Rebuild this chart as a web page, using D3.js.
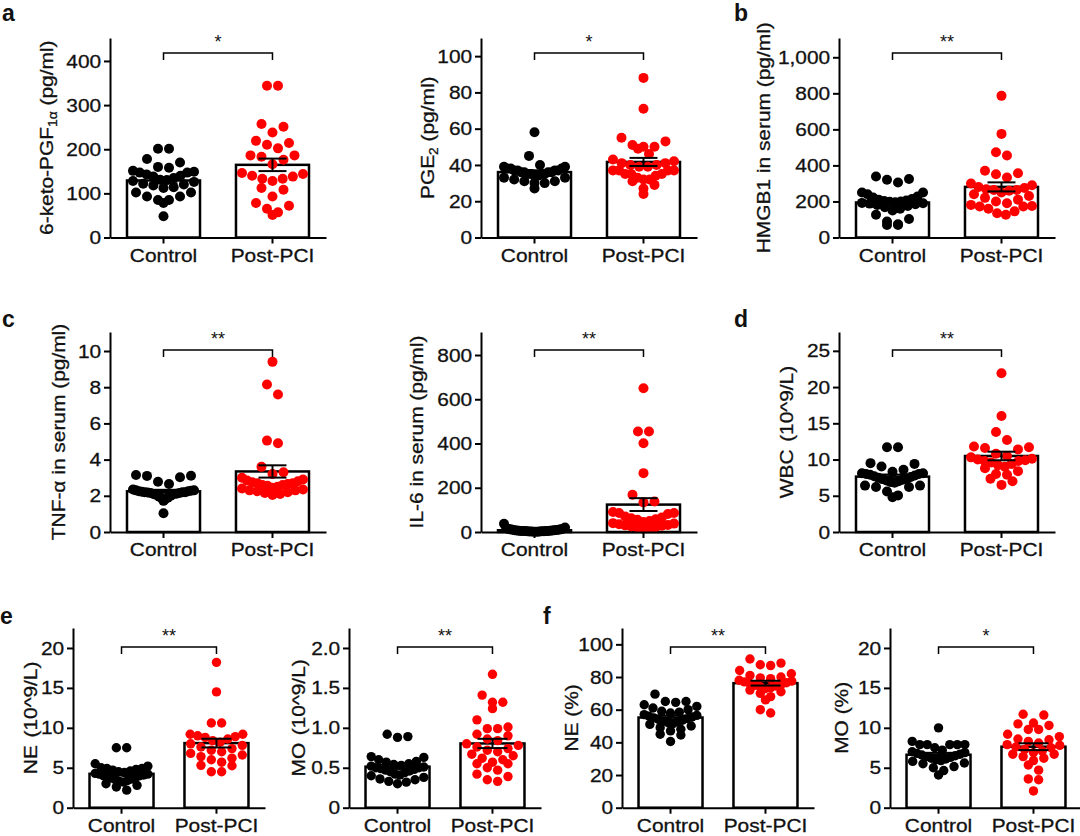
<!DOCTYPE html>
<html>
<head>
<meta charset="utf-8">
<script src="https://cdn.jsdelivr.net/npm/d3@7"></script>
<style>
  body { margin: 0; background: #fff; }
  text { font-family: "Liberation Sans", Arial, sans-serif; fill: #111; }
</style>
</head>
<body>
<div id="fig"></div>
<script>
// groups on every x axis
var groups = ["Control", "Post-PCI"];

// a: 6-keto-PGF1a
var ketoControl = [201,201,178,170,160,158,151,149,147,147,143,140,138,135,131,130,128,126,122,120,118,114,112,102,102,93,93,85,85,78,48];
var ketoPost = [344,344,257,251,238,219,214,210,202,186,186,183,176,166,146,140,133,128,133,138,144,108,112,93,78,72,65,57,51];
var ketoTicks = [0,100,200,300,400];

// a: PGE2
var pge2Control = [58,45,40,39,39,38,38,38,37,37,37,37,36,36,36,36,35,35,35,35,34,34,33,33,32,31,31,30,30,27];
var pge2Post = [88,71,55,53,51,50,49,50,46,43,42,41,40,40,41,39,39,37,37,37,37,35,34,35,35,32,31,29,27,24,33,32];
var pge2Ticks = [0,20,40,60,80,100];

// b: HMGB1
var hmgb1Control = [338,325,320,305,250,250,240,227,222,214,210,205,203,200,198,195,192,190,188,185,180,175,168,160,150,126,103,89,74,70,70];
var hmgb1Post = [786,575,473,455,370,357,351,333,300,290,280,275,268,264,264,259,250,240,230,220,210,200,190,181,175,172,172,160,145,135,126];
var hmgb1Ticks = [0,200,400,600,800,1000];
var hmgb1TickLabels = ["0","200","400","600","800","1,000"];

// c: TNF-a
var tnfControl = [3.15,3.11,3.1,3.02,2.78,2.65,2.35,2.3,2.3,2.28,2.25,2.25,2.22,2.2,2.2,2.2,2.18,2.15,2.15,2.12,2.1,2.1,2.05,2.0,1.95,1.9,1.85,1.8,1.72,1.04];
var tnfPost = [9.4,8.15,7.6,5.05,4.9,3.6,3.3,3.2,3.0,2.9,2.85,2.8,2.75,2.7,2.7,2.65,2.6,2.6,2.55,2.5,2.45,2.4,2.35,2.3,2.3,2.25,2.2,2.15,2.1,2.05];
var tnfTicks = [0,2,4,6,8,10];

// c: IL-6
var il6Control = [37,20,18,15,14,12,12,10,10,9,8,8,7,7,6,6,5,5,5,4,4,3,3,3,2,2,2,1,1,1];
var il6Post = [650,454,454,401,266,168,138,134,90,86,86,81,70,65,62,58,55,50,45,40,38,35,32,30,28,25,22,20,18,15];
var il6Ticks = [0,200,400,600,800];

// d: WBC
var wbcControl = [11.7,11.7,9.5,9.4,9.05,8.6,8.3,8.1,8.1,8.0,8.0,7.9,7.8,7.7,7.6,7.5,7.4,7.3,7.2,7.1,7.0,6.9,6.8,6.4,6.4,6.2,6.2,5.6,5.05,4.8];
var wbcPost = [21.9,16.0,13.8,12.7,11.8,11.7,11.6,11.4,10.8,10.5,10.3,10.1,10.0,9.9,9.8,9.8,9.6,9.4,9.2,9.0,8.8,8.4,8.0,7.9,7.35,7.0,6.5];
var wbcTicks = [0,5,10,15,20,25];

// e: NE count
var neControl = [7.5,7.5,5.5,5.2,5.0,4.9,4.9,4.8,4.7,4.6,4.5,4.4,4.3,4.2,4.2,4.1,4.0,4.0,3.9,3.8,3.7,3.6,3.5,3.4,3.3,3.2,3.0,2.8,2.6,2.2];
var nePost = [18.2,14.5,10.6,10.6,9.2,9.2,9.0,8.9,8.8,8.6,8.4,8.2,8.0,7.8,7.6,7.4,7.2,7.0,6.8,6.6,6.4,6.2,6.0,5.7,5.3,5.25,4.5,4.5];
var neTicks = [0,5,10,15,20];

// e: MO count
var moControl = [0.92,0.89,0.88,0.64,0.63,0.6,0.58,0.57,0.55,0.54,0.53,0.52,0.51,0.5,0.5,0.49,0.48,0.47,0.46,0.45,0.44,0.42,0.41,0.4,0.38,0.36,0.35,0.33,0.32,0.3];
var moPost = [1.67,1.41,1.32,1.32,1.24,1.1,1.01,0.99,0.99,0.92,0.9,0.86,0.84,0.8,0.78,0.76,0.74,0.72,0.7,0.67,0.65,0.62,0.6,0.57,0.55,0.55,0.5,0.47,0.42,0.39,0.35,0.33];
var moTicks = [0,0.5,1.0,1.5,2.0];
var moTickLabels = ["0","0.5","1.0","1.5","2.0"];

// f: NE %
var nePctControl = [69.5,65,65,64.5,63,62,61,60,59,58.5,58,57,56.5,56,55.5,55,54.5,54,53.5,53,52.5,52,51.5,51,50,49,48,47,45,44.5,40.5];
var nePctPost = [91,88.5,87.5,87,84,82,81,80,79.5,79,78,77.5,77,76.5,76,75.5,75,74.5,74,73.5,73,72,71,70,68,66,60,58];
var nePctTicks = [0,20,40,60,80,100];

// f: MO %
var moPctControl = [10,8.3,7.9,7.9,7.9,7.9,7.9,7.5,7.2,7.0,6.9,6.8,6.7,6.6,6.5,6.4,6.3,6.2,6.1,6.0,5.9,5.8,5.6,5.5,5.15,5.0,4.65,4.1];
var moPctPost = [11.7,11.6,10.6,10.5,10.3,9.8,9.8,9.2,8.9,8.6,8.5,8.3,8.1,7.9,7.8,7.6,7.5,7.3,7.1,6.9,6.7,6.7,6.4,6.2,5.9,5.35,4.7,3.6,3.5,2.1];
var moPctTicks = [0,5,10,15,20];

// row geometry
var rows = [
  {top:38,  zero:237.5, bracket:53,  width:216, pIn:0.33,  pOut:0.156, r:5,   cap:14, letterY:21},
  {top:332, zero:532,   bracket:350, width:216, pIn:0.33,  pOut:0.156, r:5,   cap:14, letterY:327},
  {top:628, zero:807.7, bracket:647, width:192, pIn:0.326, pOut:0.174, r:4.7, cap:15, letterY:624}
];

var panels = [
  {row:0, ax:110, yMax:452,  ticks:ketoTicks,  c:ketoControl,  p:ketoPost,  sig:"*",  lab:[["6-keto-PGF"],["1α",1],[" (pg/ml)"]], labOff:57, letter:"a", lx:2},
  {row:0, ax:481, yMax:110,  ticks:pge2Ticks,  c:pge2Control,  p:pge2Post,  sig:"*",  lab:[["PGE"],["2",1],[" (pg/ml)"]], labOff:47},
  {row:0, ax:839, yMax:1107, ticks:hmgb1Ticks, tl:hmgb1TickLabels, c:hmgb1Control, p:hmgb1Post, sig:"**", lab:[["HMGB1 in serum (pg/ml)"]], labOff:69, letter:"b", lx:734},
  {row:1, ax:110, yMax:11.05,ticks:tnfTicks,   c:tnfControl,   p:tnfPost,   sig:"**", lab:[["TNF-α in serum (pg/ml)"]], labOff:45, letter:"c", lx:2},
  {row:1, ax:481, yMax:904,  ticks:il6Ticks,   c:il6Control,   p:il6Post,   sig:"**", lab:[["IL-6 in serum (pg/ml)"]], labOff:58},
  {row:1, ax:839, yMax:27.6, ticks:wbcTicks,   c:wbcControl,   p:wbcPost,   sig:"**", lab:[["WBC \u200A(10^9/L)"]], labOff:46, letter:"d", lx:734},
  {row:2, ax:73,  yMax:22.5, ticks:neTicks,    c:neControl,    p:nePost,    sig:"**", lab:[["NE \u200A(10^9/L)"]], labOff:36, letter:"e", lx:0},
  {row:2, ax:349, yMax:2.25, ticks:moTicks, tl:moTickLabels, c:moControl, p:moPost, sig:"**", lab:[["MO \u200A(10^9/L)"]], labOff:44},
  {row:2, ax:622, yMax:110,  ticks:nePctTicks, c:nePctControl, p:nePctPost, sig:"**", lab:[["NE (%)"]], labOff:44, letter:"f", lx:543},
  {row:2, ax:890, yMax:22.5, ticks:moPctTicks, c:moPctControl, p:moPctPost, sig:"*",  lab:[["MO (%)"]], labOff:42}
];

var colors = {"Control":"#000000", "Post-PCI":"#ff0000"};
var stretch = "scale(1.1,1)";

var svg = d3.select("#fig").append("svg")
  .attr("width",1080)
  .attr("height",836);
svg.append("rect").attr("width",1080).attr("height",836).attr("fill","#fff");

// Prism-like scatter: rows of close values, spread sideways, larger values outside
function swarm(vals, y, cx, r, maxHalf){
  var pts = vals.map(function(v){ return {v:v, py:y(v)}; })
    .sort(function(a,b){ return a.py - b.py; });
  var rowsOut = [], cur = null;
  pts.forEach(function(p){
    if(!cur || p.py - cur.start >= 2*r){ cur = {start:p.py, pts:[]}; rowsOut.push(cur); }
    cur.pts.push(p);
  });
  rowsOut.forEach(function(rw){
    var n = rw.pts.length;
    var sp = n > 1 ? Math.min(2.2*r, 2*maxHalf/(n-1)) : 0;
    var slots = d3.range(n).map(function(i){ return cx + (i-(n-1)/2)*sp; });
    var order = [];
    var lo = 0, hi = n-1;
    for(var k=0;k<n;k++){
      if(k%2===0){ order.push(slots[lo++]); } else { order.push(slots[hi--]); }
    }
    rw.pts.sort(function(a,b){ return b.v - a.v; });
    rw.pts.forEach(function(p,i){ p.px = order[i]; });
  });
  return pts;
}

function sem(a){ return d3.deviation(a)/Math.sqrt(a.length); }

panels.forEach(function(pn){
  var rw = rows[pn.row];
  var g = svg.append("g");

  var y = d3.scaleLinear().domain([0, pn.yMax]).range([rw.zero, rw.top]);
  var x = d3.scaleBand().domain(groups)
    .range([pn.ax, pn.ax + rw.width])
    .paddingInner(rw.pIn).paddingOuter(rw.pOut);

  var sets = [{k:"Control", v:pn.c}, {k:"Post-PCI", v:pn.p}];

  // bars
  g.selectAll(".bar").data(sets).enter().append("rect")
    .attr("class","bar")
    .attr("x", function(d){ return x(d.k); })
    .attr("width", x.bandwidth())
    .attr("y", function(d){ return y(d3.mean(d.v)); })
    .attr("height", function(d){ return rw.zero - y(d3.mean(d.v)); })
    .attr("fill","#fff")
    .attr("stroke","#000")
    .attr("stroke-width",2.5);

  // dots
  sets.forEach(function(s){
    var cx = x(s.k) + x.bandwidth()/2;
    var pts = swarm(s.v, y, cx, rw.r, x.bandwidth()/2 - rw.r - 1);
    g.selectAll(null).data(pts).enter().append("circle")
      .attr("cx", function(d){ return d.px; })
      .attr("cy", function(d){ return d.py; })
      .attr("r", rw.r)
      .attr("fill", colors[s.k]);
  });

  // mean +/- SEM
  sets.forEach(function(s){
    var cx = x(s.k) + x.bandwidth()/2;
    var m = d3.mean(s.v), e = sem(s.v);
    var eb = g.append("g").attr("stroke","#000").attr("stroke-width",2);
    eb.append("line").attr("x1",cx).attr("x2",cx).attr("y1",y(m-e)).attr("y2",y(m+e));
    [m-e, m+e].forEach(function(v){
      eb.append("line").attr("x1",cx-rw.cap).attr("x2",cx+rw.cap).attr("y1",y(v)).attr("y2",y(v));
    });
  });

  // axes
  var yAxis = d3.axisLeft(y).tickValues(pn.ticks)
    .tickFormat(function(d,i){ return pn.tl ? pn.tl[i] : String(d); })
    .tickSize(6).tickSizeOuter(0).tickPadding(2);
  var ya = g.append("g").attr("transform","translate("+pn.ax+",0)").call(yAxis);
  var xa = g.append("g").attr("transform","translate(0,"+rw.zero+")")
    .call(d3.axisBottom(x).tickSize(6).tickSizeOuter(0).tickPadding(5));
  [ya, xa].forEach(function(a){
    a.selectAll("path,line").attr("stroke","#000").attr("stroke-width",2);
    a.selectAll("text").attr("font-size",19).attr("fill","#111")
      .attr("transform", stretch)
      .style("stroke","#111").style("stroke-width",0.3)
      .style("font-family","'Liberation Sans', Arial, sans-serif");
  });

  // y label
  var cy = (rw.zero + rw.top)/2;
  var lt = g.append("text")
    .attr("transform","translate("+(pn.ax - pn.labOff)+","+cy+") rotate(-90) "+stretch)
    .attr("text-anchor","middle")
    .attr("font-size",19)
    .style("stroke","#111").style("stroke-width",0.3);
  var shift = 0;
  pn.lab.forEach(function(seg){
    var ts = lt.append("tspan").text(seg[0]);
    if(seg[1]){ ts.attr("font-size",12.5).attr("dy",4); shift = 4; }
    else if(shift){ ts.attr("dy",-shift); shift = 0; }
  });

  // significance bracket
  var c0 = x("Control") + x.bandwidth()/2, c1 = x("Post-PCI") + x.bandwidth()/2;
  g.append("path")
    .attr("d","M"+c0+","+(rw.bracket+7)+"V"+rw.bracket+"H"+c1+"V"+(rw.bracket+7))
    .attr("fill","none").attr("stroke","#000").attr("stroke-width",1.5);
  g.append("text")
    .attr("x",(c0+c1)/2).attr("y",rw.bracket-5)
    .attr("text-anchor","middle").attr("font-size",18)
    .text(pn.sig);

  // panel letter
  if(pn.letter){
    svg.append("text").attr("x",pn.lx).attr("y",rw.letterY)
      .attr("font-size",23).attr("font-weight","bold").attr("fill","#000")
      .text(pn.letter);
  }
});
</script>
</body>
</html>
